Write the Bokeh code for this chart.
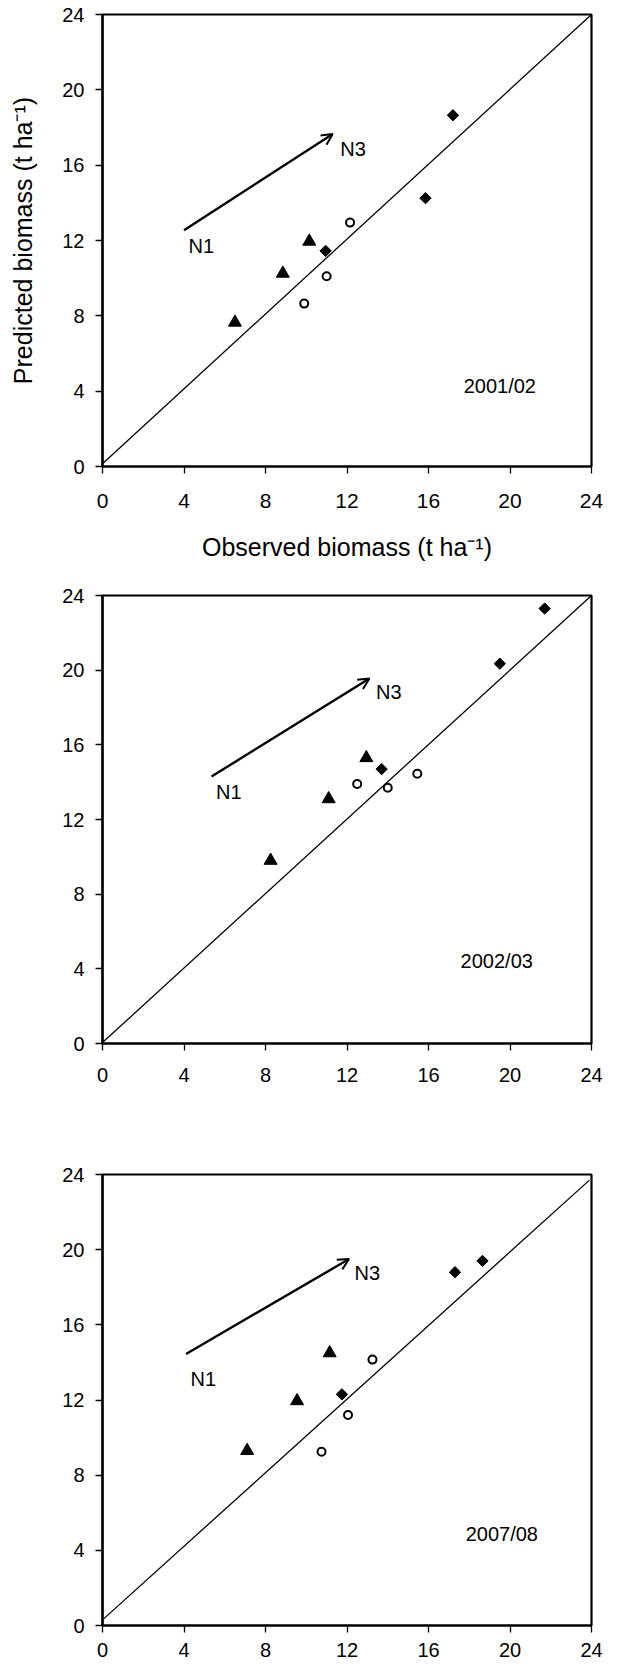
import math
from bokeh.plotting import figure
from bokeh.layouts import column
from bokeh.models import Arrow, OpenHead, FixedTicker, Range1d
from bokeh.core.properties import value
from bokeh.embed import file_html
from bokeh.resources import INLINE

FONT = "'Liberation Sans', Arial, sans-serif"

# ---------------- data ----------------
ticks = [0, 4, 8, 12, 16, 20, 24]
x_title = "Observed biomass (t ha\u207b\u00b9)"
y_title = "Predicted biomass (t ha\u207b\u00b9)"

# 2001/02
p1_tri_x = [6.5, 8.85, 10.15]
p1_tri_y = [7.65, 10.25, 11.95]
p1_dia_x = [10.95, 15.85, 17.2]
p1_dia_y = [11.45, 14.25, 18.65]
p1_cir_x = [9.9, 11.0, 12.15]
p1_cir_y = [8.65, 10.1, 12.95]
p1_diag_x = [0, 24]
p1_diag_y = [0.15, 24]
p1_arrow = [4.0, 12.55, 11.3, 17.65]
p1_lab_x = [4.85, 12.3, 19.5]
p1_lab_y = [11.7, 16.85, 4.3]
p1_lab_t = ["N1", "N3", "2001/02"]

# 2002/03
p2_tri_x = [8.25, 11.1, 12.95]
p2_tri_y = [9.8, 13.1, 15.3]
p2_dia_x = [13.7, 19.5, 21.7]
p2_dia_y = [14.7, 20.35, 23.3]
p2_cir_x = [12.5, 14.0, 15.45]
p2_cir_y = [13.9, 13.7, 14.45]
p2_diag_x = [0, 24]
p2_diag_y = [0.05, 24]
p2_arrow = [5.35, 14.3, 13.1, 19.55]
p2_lab_x = [6.2, 14.05, 19.35]
p2_lab_y = [13.5, 18.85, 4.4]
p2_lab_t = ["N1", "N3", "2002/03"]

# 2007/08
p3_tri_x = [7.1, 9.55, 11.15]
p3_tri_y = [9.3, 11.95, 14.5]
p3_dia_x = [11.75, 17.3, 18.65]
p3_dia_y = [12.3, 18.8, 19.4]
p3_cir_x = [10.75, 12.05, 13.25]
p3_cir_y = [9.25, 11.2, 14.15]
p3_diag_x = [0, 23.9]
p3_diag_y = [0.3, 23.7]
p3_arrow = [4.1, 14.45, 12.1, 19.5]
p3_lab_x = [4.95, 13.0, 19.6]
p3_lab_y = [13.1, 18.75, 4.85]
p3_lab_t = ["N1", "N3", "2007/08"]


def make_panel(w, h, bl, br, bt, bb, tri_x, tri_y, dia_x, dia_y, cir_x, cir_y,
               diag_x, diag_y, arrow, lab_x, lab_y, lab_t, xlab=None, ylab=None,
               x_std=15):
    p = figure(width=w, height=h, output_backend="svg", toolbar_location=None,
               x_range=Range1d(0, 24), y_range=Range1d(0, 24),
               min_border_left=bl, min_border_right=br,
               min_border_top=bt, min_border_bottom=bb)
    p.background_fill_color = "white"
    p.border_fill_color = "white"
    p.outline_line_color = "black"
    p.outline_line_width = 2.2
    p.grid.visible = False
    for ax in (p.xaxis[0], p.yaxis[0]):
        ax.ticker = FixedTicker(ticks=ticks)
        ax.axis_line_width = 2.2
        ax.axis_line_color = "black"
        ax.major_tick_in = 0
        ax.major_tick_out = 7
        ax.major_tick_line_width = 1.3
        ax.minor_tick_in = 0
        ax.minor_tick_out = 0
        ax.major_label_text_font = FONT
        ax.major_label_text_color = "black"
        ax.major_label_text_font_size = "20px"
        ax.axis_label_text_font = FONT
        ax.axis_label_text_font_style = "normal"
        ax.axis_label_text_font_size = "25px"
        ax.axis_label_text_color = "black"
    p.xaxis.major_label_standoff = x_std
    p.yaxis.major_label_standoff = 11
    if xlab:
        p.xaxis.axis_label = xlab
        p.xaxis.axis_label_standoff = 22
        p.xaxis.major_label_text_font_size = "21px"
    if ylab:
        p.yaxis.axis_label = ylab
        p.yaxis.axis_label_standoff = 22

    p.line(diag_x, diag_y, line_color="black", line_width=1.3)
    p.scatter(tri_x, tri_y, marker="triangle", size=13, fill_color="black",
              line_color="black", line_width=1)
    p.scatter(dia_x, dia_y, marker="square", angle=math.pi / 4, size=8,
              fill_color="black", line_color="black", line_width=1)
    p.scatter(cir_x, cir_y, marker="circle", size=8, fill_color="white",
              line_color="black", line_width=2)
    p.add_layout(Arrow(end=OpenHead(size=11, line_width=2, line_color="black"),
                       x_start=arrow[0], y_start=arrow[1],
                       x_end=arrow[2], y_end=arrow[3],
                       line_width=2.4, line_color="black"))
    p.text(x=lab_x, y=lab_y, text=lab_t, text_font=value(FONT),
           text_font_size="20px", text_align="center", text_baseline="middle",
           text_color="black")
    return p


p1 = make_panel(613, 581, 97, 22, 14, 115,
                p1_tri_x, p1_tri_y, p1_dia_x, p1_dia_y, p1_cir_x, p1_cir_y,
                p1_diag_x, p1_diag_y, p1_arrow, p1_lab_x, p1_lab_y, p1_lab_t,
                xlab=x_title, ylab=y_title, x_std=20)
p2 = make_panel(613, 579, 102, 20, 14, 117,
                p2_tri_x, p2_tri_y, p2_dia_x, p2_dia_y, p2_cir_x, p2_cir_y,
                p2_diag_x, p2_diag_y, p2_arrow, p2_lab_x, p2_lab_y, p2_lab_t,
                x_std=17)
p3 = make_panel(613, 502, 96, 10, 14, 37,
                p3_tri_x, p3_tri_y, p3_dia_x, p3_dia_y, p3_cir_x, p3_cir_y,
                p3_diag_x, p3_diag_y, p3_arrow, p3_lab_x, p3_lab_y, p3_lab_t,
                x_std=10)

layout = column(p1, p2, p3, spacing=0)
open("out.html", "w").write(file_html(layout, INLINE))
